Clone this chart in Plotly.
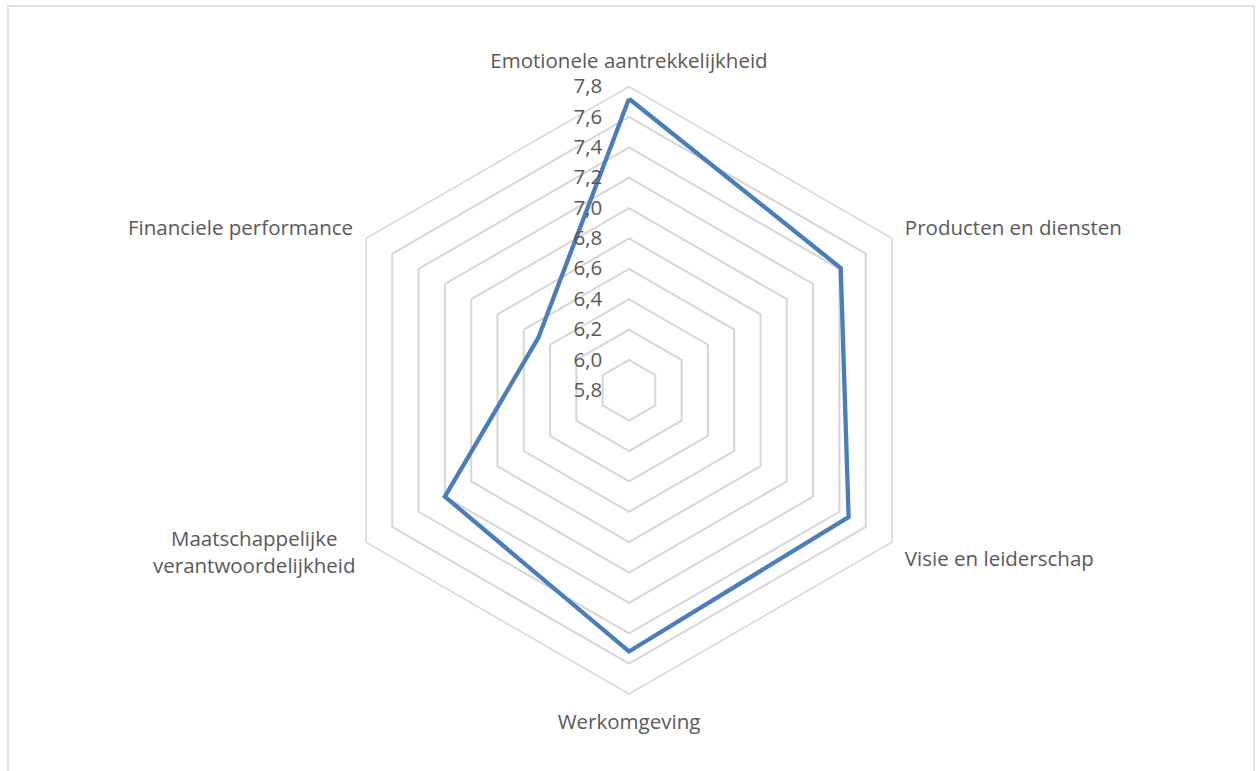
import math
import plotly.graph_objects as go

categories = [
    "Emotionele aantrekkelijkheid",
    "Producten en diensten",
    "Visie en leiderschap",
    "Werkomgeving",
    "Maatschappelijke verantwoordelijkheid",
    "Financiele performance",
]
# labels as shown (the long one wraps onto two centred lines)
tick_labels = [
    "Emotionele aantrekkelijkheid",
    "Producten en diensten",
    "Visie en leiderschap",
    "Werkomgeving",
    "Maatschappelijke<br>verantwoordelijkheid",
    "Financiele performance",
]
values = [7.72, 7.41, 7.47, 7.52, 7.20, 6.49]
radial_range = [5.8, 7.8]
radial_step = 0.2

W, H = 1260, 771
cx, cy, R = 629, 390.3, 303.7

fig = go.Figure()
fig.add_trace(go.Scatterpolar(
    r=values + values[:1],
    theta=categories + categories[:1],
    mode="lines",
    line=dict(color="#4A7EBB", width=4.3),
    hoverinfo="r+theta",
))

font = dict(family="Open Sans, Carlito, Calibri, sans-serif", size=20.5, color="#595959")

# multi-line labels are placed as centred annotations next to their spoke
wrapped = [i for i, t in enumerate(tick_labels) if "<br>" in t]
shown_ticktext = ["" if i in wrapped else t for i, t in enumerate(tick_labels)]
annotations = []
for i in wrapped:
    ang = math.radians(360 * i / len(categories))
    vx = cx + R * math.sin(ang)
    vy = cy - R * math.cos(ang)
    right_side = math.sin(ang) > 0.01
    annotations.append(dict(
        text=tick_labels[i], xref="paper", yref="paper",
        x=(vx + (9 if right_side else -9)) / W, y=1 - (vy + 9) / H,
        xanchor="left" if right_side else "right", yanchor="middle",
        align="center", showarrow=False, font=font,
    ))

fig.update_layout(
    width=W, height=H,
    margin=dict(l=0, r=0, t=0, b=0),
    paper_bgcolor="white",
    plot_bgcolor="white",
    showlegend=False,
    separators=",.",
    font=font,
    polar=dict(
        domain=dict(x=[(cx - R) / W, (cx + R) / W], y=[1 - (cy + R) / H, 1 - (cy - R) / H]),
        bgcolor="white",
        gridshape="linear",
        radialaxis=dict(
            range=radial_range,
            tick0=radial_range[0],
            dtick=radial_step,
            tickformat=".1f",
            angle=90,
            tickangle=90,
            side="counterclockwise",
            showline=False,
            ticks="outside",
            ticklen=19,
            tickcolor="rgba(0,0,0,0)",
            showgrid=True,
            gridcolor="#d6d6d6",
            gridwidth=1.5,
            tickfont=font,
        ),
        angularaxis=dict(
            rotation=90,
            direction="clockwise",
            tickmode="array",
            tickvals=categories,
            ticktext=shown_ticktext,
            showgrid=False,
            showline=True,
            linecolor="#d6d6d6",
            linewidth=1.5,
            ticks="outside",
            ticklen=10,
            tickcolor="rgba(0,0,0,0)",
            tickfont=font,
        ),
    ),
    annotations=annotations,
    shapes=[dict(
        type="rect", xref="paper", yref="paper",
        x0=8 / W, x1=1254 / W, y0=-0.05, y1=1 - 6 / H,
        line=dict(color="#d9d9d9", width=1.3),
        fillcolor="rgba(0,0,0,0)",
        layer="below",
    )],
)

fig.write_html(
    "out.html",
    config={"displayModeBar": False},
    post_script="document.body.style.margin='0';document.body.style.overflow='hidden';",
)
